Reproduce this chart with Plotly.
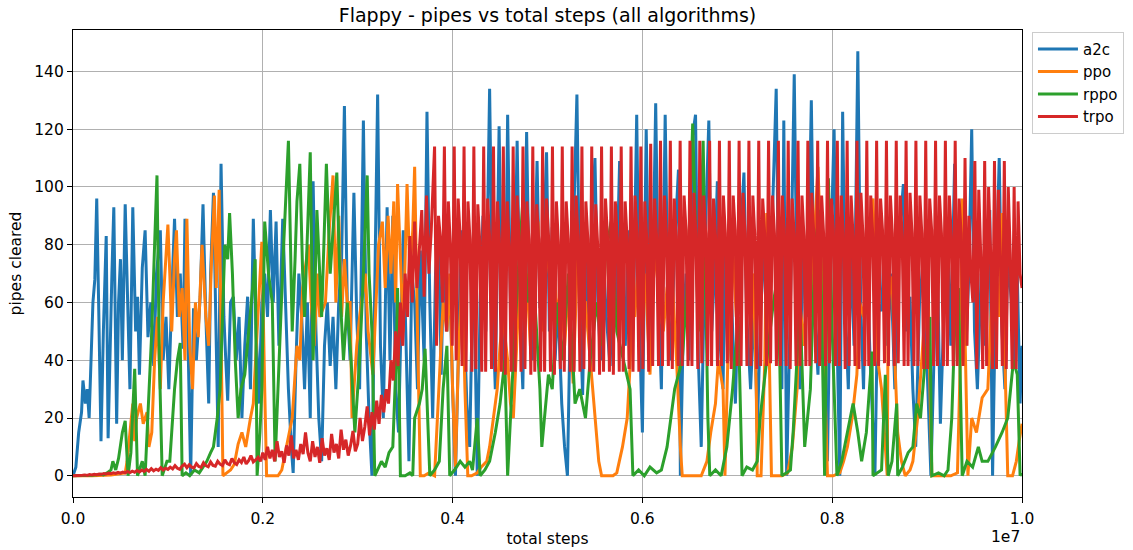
import numpy as np
import plotly.graph_objects as go

# x values are total steps in units of 1e5
a2c_points = [(0,0),(0.3,3),(0.6,15),(0.9,22),(1.05,33),(1.3,25),(1.5,30),(1.7,20),(1.9,40),(2.1,60),(2.3,68),(2.5,96),(2.7,60),(2.95,12),(3.2,50),(3.5,83),(3.7,13),(3.9,45),(4.1,70),(4.3,93),(4.6,18),(4.8,60),(5.0,75),(5.2,40),(5.5,94),(5.8,55),(6.0,30),(6.3,93),(6.6,50),(6.8,62),(7.0,35),(7.3,72),(7.6,85),(7.9,48),(8.2,60),(8.5,38),(8.8,70),(9.2,85),(9.5,40),(9.8,55),(10.1,30),(10.4,62),(10.7,89),(11.0,55),(11.3,70),(11.6,44),(11.8,89),(12.1,50),(12.4,0),(12.7,58),(13.0,40),(13.4,62),(13.7,94),(14.0,55),(14.3,25),(14.5,70),(14.8,98),(15.1,45),(15.3,10),(15.6,108),(15.9,55),(16.1,40),(16.3,26),(16.6,60),(16.9,62),(17.2,40),(17.5,55),(17.8,20),(18.1,45),(18.4,62),(18.7,30),(19.0,89),(19.3,50),(19.6,25),(19.9,60),(20.2,70),(20.5,55),(20.8,92),(21.1,60),(21.4,88),(21.7,45),(22.1,89),(22.4,55),(22.7,30),(23.0,10),(23.2,1),(23.5,40),(23.8,70),(24.1,55),(24.4,30),(24.7,60),(25.0,20),(25.3,102),(25.6,50),(25.9,20),(26.2,5),(26.5,45),(26.8,60),(27.1,38),(27.4,55),(27.7,30),(28.0,60),(28.3,75),(28.6,128),(28.9,60),(29.2,40),(29.6,98),(29.9,55),(30.2,30),(30.6,123),(30.9,50),(31.2,20),(31.5,0),(31.8,60),(32.1,132),(32.4,45),(32.7,20),(33.1,93),(33.4,40),(33.7,90),(34.0,30),(34.3,15),(34.8,85),(35.1,45),(35.4,5),(35.7,70),(36.0,60),(36.3,30),(36.6,78),(37.0,40),(37.3,126),(37.6,60),(37.9,20),(38.2,70),(38.5,85),(38.8,35),(39.1,80),(39.4,50),(39.7,68),(40.0,30),(40.3,0),(40.6,40),(40.9,85),(41.2,55),(41.5,25),(41.8,10),(42.2,80),(42.6,0),(42.9,60),(43.2,90),(43.5,50),(43.9,134),(44.2,60),(44.5,30),(44.9,121),(45.2,55),(45.5,35),(45.8,125),(46.1,60),(46.4,40),(46.8,116),(47.1,55),(47.4,30),(47.8,119),(48.1,60),(48.4,40),(48.9,109),(49.2,58),(49.5,70),(49.9,112),(50.2,50),(50.5,86),(50.8,40),(51.1,60),(51.5,25),(51.8,10),(52.1,0),(52.4,55),(52.7,80),(53.1,132),(53.4,60),(53.7,28),(54.0,80),(54.3,50),(54.7,90),(55.0,110),(55.3,60),(55.6,40),(55.9,75),(56.2,55),(56.6,38),(56.9,70),(57.2,55),(57.6,109),(57.9,60),(58.2,45),(58.5,85),(58.8,50),(59.1,65),(59.4,125),(59.7,50),(60.0,15),(60.4,120),(60.8,40),(61.1,70),(61.4,129),(61.7,60),(62.0,30),(62.4,125),(62.7,60),(63.0,40),(63.4,80),(63.8,106),(64.0,0),(64.3,50),(64.6,70),(64.9,40),(65.3,118),(65.6,125),(65.9,40),(66.2,10),(66.6,80),(67.0,123),(67.3,50),(67.6,70),(67.9,102),(68.2,45),(68.5,30),(68.7,80),(69.0,40),(69.4,60),(69.8,25),(70.2,75),(70.7,105),(71.0,55),(71.4,30),(71.8,60),(72.1,15),(72.5,60),(72.9,80),(73.3,40),(73.7,90),(74.1,134),(74.4,50),(74.7,30),(74.9,123),(75.2,0),(75.6,60),(76.0,139),(76.3,60),(76.6,30),(77.0,80),(77.4,55),(77.8,130),(78.1,60),(78.5,35),(78.8,75),(79.1,40),(79.5,5),(79.8,70),(80.2,120),(80.5,50),(80.8,0),(81.1,126),(81.4,55),(81.7,30),(82.0,80),(82.3,45),(82.7,147),(83.0,60),(83.3,30),(83.6,80),(84.0,40),(84.5,0),(84.8,60),(85.2,57),(85.5,80),(85.8,45),(86.2,70),(86.6,30),(87.0,80),(87.5,101),(87.8,50),(88.2,62),(88.5,30),(88.8,10),(89.2,60),(89.6,75),(90.0,40),(90.4,0),(90.8,50),(91.1,70),(91.4,18),(91.8,60),(92.2,80),(92.5,45),(92.9,108),(93.2,60),(93.5,40),(93.8,95),(94.1,45),(94.4,70),(94.7,120),(95.0,50),(95.3,30),(95.7,70),(96.0,45),(96.3,80),(96.6,92),(96.9,0),(97.2,60),(97.6,110),(97.9,50),(98.2,30),(98.5,75),(98.9,60),(99.2,40),(99.5,70),(99.8,25),(100,45)]

ppo_points = [(0,0),(2,0),(4,0.3),(5.5,1),(5.7,5),(6.0,15),(6.3,25),(6.5,12),(6.7,20),(7.1,25),(7.4,18),(7.8,22),(8.0,10),(8.3,15),(8.6,40),(8.9,55),(9.2,30),(9.5,60),(10.0,87),(10.2,70),(10.4,50),(10.7,75),(10.9,85),(11.2,55),(11.5,65),(11.8,40),(12.0,89),(12.3,45),(12.6,30),(12.9,60),(13.2,48),(13.6,80),(14.0,55),(14.3,45),(14.6,75),(14.9,97),(15.1,65),(15.4,99),(15.6,40),(15.8,0),(16.2,1),(16.6,2),(17.0,4),(17.4,11),(17.8,15),(18.2,10),(18.7,20),(19.0,25),(19.4,50),(19.9,81),(20.2,30),(20.4,0),(21.0,0),(21.6,0),(22.0,2),(22.5,10),(23.1,20),(23.6,45),(23.9,40),(24.2,65),(24.8,80),(25.1,60),(25.4,45),(25.8,70),(26.0,55),(26.6,60),(27.0,85),(27.4,104),(27.7,60),(28.0,90),(28.3,55),(28.6,75),(28.9,60),(29.2,60),(29.4,20),(29.9,45),(30.2,55),(30.8,70),(31.1,50),(31.6,35),(31.9,60),(32.2,80),(32.6,88),(32.9,65),(33.2,90),(33.5,70),(33.8,95),(34.0,60),(34.2,101),(34.5,75),(34.8,50),(35.2,101),(35.5,70),(35.8,85),(36.0,107),(36.3,50),(36.6,0),(37.0,0),(37.5,1),(38.1,0),(38.4,20),(38.7,45),(39.0,60),(39.4,50),(39.7,70),(40.0,30),(40.3,3),(40.6,40),(41.0,71),(41.3,30),(41.6,0),(42.0,0),(42.6,1),(43.0,3),(43.6,5),(43.9,10),(44.3,20),(44.7,30),(45.0,45),(45.3,55),(45.8,40),(46.1,25),(46.4,20),(46.8,50),(47.1,70),(47.4,55),(47.8,70),(48.2,45),(48.4,75),(48.7,86),(49.0,88),(49.2,65),(49.5,50),(49.8,70),(50.2,80),(50.6,80),(51.0,55),(51.4,65),(51.8,45),(52.2,65),(52.5,45),(52.7,32),(53.2,80),(53.6,60),(54.0,60),(54.5,40),(55.0,20),(55.4,5),(55.7,0),(56.3,0),(56.9,0),(57.3,1),(57.9,10),(58.4,20),(58.7,38),(58.9,60),(59.2,55),(59.6,75),(60.0,60),(60.3,70),(60.8,35),(61.3,80),(61.8,60),(62.2,50),(62.6,65),(63.1,71),(63.6,40),(64.0,10),(64.2,0),(64.8,0),(65.5,0),(66.2,0),(66.8,5),(67.2,15),(67.7,25),(68.0,40),(68.5,30),(68.7,0),(69.0,40),(69.2,60),(69.5,80),(69.9,55),(70.3,75),(70.8,80),(71.2,60),(71.7,70),(72.0,30),(72.1,0),(72.5,0),(72.9,40),(73.1,91),(73.4,30),(73.6,0),(74.1,0),(74.7,0),(75.3,1),(75.8,10),(76.3,30),(76.6,60),(77.0,45),(77.4,70),(77.7,55),(78.1,80),(78.5,107),(79.0,60),(79.3,20),(79.5,0),(80.1,0),(80.8,1),(81.2,5),(81.6,10),(82.1,20),(82.6,35),(82.9,60),(83.3,55),(83.8,80),(84.3,96),(84.8,40),(85.2,30),(85.6,10),(85.8,0),(85.9,60),(86.3,69),(86.6,40),(86.9,15),(87.3,5),(87.7,0),(88.2,2),(88.5,5),(89.0,20),(89.5,45),(90.1,71),(90.3,30),(90.5,0),(91.1,0),(91.8,0),(92.5,0),(93.2,1),(93.5,40),(93.7,96),(94.0,50),(94.3,0),(94.7,20),(95.2,15),(95.8,27),(96.4,30),(96.8,60),(97.2,75),(97.6,55),(97.9,91),(98.2,40),(98.5,0),(99.0,0),(99.4,5),(99.7,12),(100,18)]

rppo_points = [(0,0),(1,0),(2,0.2),(3,0.5),(3.2,0.3),(3.6,1),(4.0,2),(4.2,5),(4.5,2),(4.8,6),(5.0,10),(5.2,15),(5.5,19),(5.8,0),(6.1,8),(6.5,37),(6.8,0),(7.1,3),(7.3,5),(7.6,0),(7.9,20),(8.3,50),(8.6,80),(8.85,104),(9.1,40),(9.4,0),(9.7,3),(9.9,5),(10.2,5),(10.5,20),(10.7,30),(11.0,40),(11.3,46),(11.5,0),(11.9,1),(12.3,0),(12.8,2),(13.3,1),(13.7,3),(14.1,5),(14.5,8),(14.8,10),(15.2,20),(15.5,30),(15.8,60),(16.0,80),(16.3,75),(16.5,91),(16.8,70),(17.1,40),(17.4,20),(17.7,30),(18.1,35),(18.5,50),(18.9,65),(19.2,75),(19.4,0),(19.7,15),(19.9,30),(20.2,88),(20.6,70),(21.0,60),(21.3,5),(21.6,30),(21.8,50),(22.2,80),(22.7,116),(23.1,50),(23.4,75),(23.6,95),(23.9,108),(24.2,70),(24.4,55),(24.7,85),(25.0,112),(25.3,40),(25.7,92),(26.0,70),(26.2,55),(26.7,108),(27.1,70),(27.4,85),(27.8,105),(28.2,60),(28.5,40),(28.9,60),(29.3,40),(29.7,15),(30.2,40),(30.6,70),(31.0,104),(31.2,70),(31.5,50),(31.8,0),(32.1,2),(32.5,5),(32.9,3),(33.3,8),(33.7,10),(34.1,45),(34.2,65),(34.5,0),(35.0,0),(35.5,1),(35.8,0),(36.0,20),(36.5,25),(36.8,30),(37.1,44),(37.6,0),(38.1,2),(38.6,5),(39.0,30),(39.4,45),(39.7,0),(40.2,2),(40.8,5),(41.3,3),(41.8,5),(42.1,2),(42.6,20),(42.9,0),(43.4,2),(43.9,5),(44.5,15),(45.0,25),(45.5,40),(45.8,0),(46.4,40),(46.9,70),(47.4,95),(47.9,60),(48.5,70),(49.0,40),(49.2,30),(49.4,10),(50.1,35),(50.5,30),(51.0,60),(51.6,40),(52.2,70),(52.9,25),(53.4,30),(54.0,20),(54.5,40),(55.2,60),(55.7,45),(56.1,76),(56.7,88),(57.3,50),(58.0,40),(58.7,30),(59.0,0),(59.6,2),(60.2,0),(60.8,3),(61.5,1),(62.0,2),(62.6,10),(63.0,20),(63.4,30),(63.8,35),(64.2,40),(64.8,70),(65.3,122),(65.9,50),(66.4,116),(66.9,20),(67.1,0),(67.7,2),(68.3,0),(68.9,10),(69.5,30),(70.1,55),(70.5,0),(71.0,3),(71.6,2),(72.1,5),(72.4,20),(73.1,40),(73.8,60),(74.3,70),(74.7,0),(75.2,1),(75.6,2),(75.9,16),(76.6,60),(77.1,10),(77.7,30),(78.2,80),(78.7,92),(79.2,0),(79.6,103),(80.0,50),(80.5,0),(81.0,5),(81.6,15),(82.2,25),(82.7,15),(83.1,5),(83.6,15),(84.2,43),(84.3,0),(84.8,1),(85.2,2),(85.6,35),(85.9,0),(86.3,5),(86.8,25),(86.9,0),(87.4,3),(88.0,8),(88.5,10),(88.9,25),(89.3,20),(89.8,40),(90.3,55),(90.5,0),(91.2,1),(91.8,0),(92.2,2),(92.6,20),(92.9,50),(93.3,65),(93.7,0),(94.2,5),(94.8,3),(95.4,10),(95.8,5),(96.4,5),(97.2,10),(97.9,15),(98.5,20),(99.1,40),(99.5,35),(99.8,0),(100,1)]

# trpo: slow early phase (x 0..38), then logged values x 38..100
trpo_early = [0,0,0.1,0,0.2,0.3,0.1,0.4,0.3,0.5,0.4,0.6,0.5,0.8,0.6,0.9,0.7,1.0,0.8,1.2,
              0.9,1.3,1.0,1.5,1.1,1.6,1.2,1.8,1.3,2.0,1.5,2.2,1.6,2.5,1.7,2.3,1.9,2.8,2.0,2.6,
              2.2,3.0,2.4,3.5,2.6,2.2,3.4,4.0,2.8,3.8,3.0,2.7,4.2,3.2,2.9,4.5,3.5,3.1,4.8,3.6,
              3.3,5.0,4.0,3.5,5.5,4.2,3.8,6.0,4.5,3.9,5.5,4.6,6.5,4.1,5.2,7.0,4.8,5.5,6.4,5.0,
              8.0,5.5,10.0,6.0,9.0,5.0,12.0,6.5,8.5,4.5,10.5,7.0,14.0,6.0,9.0,5.5,11.0,7.5,15.0,8.0,
              5.0,12.0,6.5,10.0,4.5,13.0,7.0,9.5,5.5,14.5,8.0,11.0,6.0,16.0,9.0,12.5,7.0,10.5,15.5,8.5,
              11,20,12,17,24,14,22,16,26,18,28,22,
              30,25,40,33,50,38,60,45,70,55,83,60,88,65,78,92,62,97,70,85]
trpo_late = [114,45,90,82,60, 114,50,95,80,45, 114,40,96,83,38, 114,36,95,82,36,
             114,37,94,81,36, 114,36,96,83,37, 114,36,95,82,36, 114,35,95,80,36,
             114,36,97,83,36, 114,37,95,82,35, 114,36,94,82,36, 114,36,96,83,36,
             114,35,95,81,37, 114,36,95,82,36, 114,36,97,83,36, 114,37,95,82,36,
             114,36,94,80,35, 114,36,96,83,36, 114,35,95,82,36, 114,36,95,82,37,
             114,36,97,84,36, 114,37,95,82,36, 115,38,96,83,38,
             116,38,97,84,38, 116,37,96,83,38, 116,38,97,85,38, 116,38,98,84,37,
             116,39,97,84,38, 116,38,96,83,38, 116,38,97,84,39, 116,37,97,85,38,
             116,38,98,84,38, 116,38,97,83,37, 116,38,96,84,38, 116,39,97,84,38,
             116,38,97,85,38, 116,37,96,84,38, 116,38,97,83,38, 116,38,98,84,39,
             116,38,97,84,38, 116,39,96,85,38, 116,38,97,84,37, 116,38,97,83,38,
             116,37,98,84,38, 116,38,97,84,38, 116,38,96,85,39, 116,38,97,84,38,
             116,39,97,83,38, 116,38,98,84,38, 116,38,97,84,37, 116,37,96,85,38,
             116,38,97,84,38, 116,38,97,83,38, 116,38,96,84,38,
             110,45,90,70,60, 109,37,99,76,37, 109,38,100,78,37, 109,37,99,76,38,
             109,37,100,77,37, 100,37,95,70,65]

a2c_x = [p[0] * 1e5 for p in a2c_points]
a2c_y = [p[1] for p in a2c_points]
ppo_x = [p[0] * 1e5 for p in ppo_points]
ppo_y = [p[1] for p in ppo_points]
rppo_x = [p[0] * 1e5 for p in rppo_points]
rppo_y = [p[1] for p in rppo_points]
trpo_x = np.concatenate([np.linspace(0, 38, len(trpo_early), endpoint=False),
                         np.linspace(38.1, 100, len(trpo_late))]) * 1e5
trpo_y = trpo_early + trpo_late

series = [("a2c", a2c_x, a2c_y, "#1f77b4"),
          ("ppo", ppo_x, ppo_y, "#ff7f0e"),
          ("rppo", rppo_x, rppo_y, "#2ca02c"),
          ("trpo", trpo_x, trpo_y, "#d62728")]

x_ticks = [0, 2e6, 4e6, 6e6, 8e6, 1e7]
x_tick_text = ["0.0", "0.2", "0.4", "0.6", "0.8", "1.0"]
y_ticks = [0, 20, 40, 60, 80, 100, 120, 140]

fig = go.Figure()
for name, xs, ys, col in series:
    fig.add_trace(go.Scatter(x=list(xs), y=list(ys), mode="lines", name=name,
                             line=dict(color=col, width=3)))

font = "DejaVu Sans, Arial, sans-serif"
fs = 15.5
fig.update_layout(
    width=1133, height=550,
    margin=dict(l=73, r=111, t=30, b=53, autoexpand=False),
    paper_bgcolor="white", plot_bgcolor="white",
    font=dict(family=font, size=fs, color="black"),
    title=dict(text="Flappy - pipes vs total steps (all algorithms)",
               x=(73 + 1022) / 2 / 1133, xanchor="center", y=0.972, yanchor="middle",
               font=dict(size=19)),
    showlegend=True,
    legend=dict(x=1.0105, y=0.996, xanchor="left", yanchor="top",
                bordercolor="#cccccc", borderwidth=1, bgcolor="white",
                itemwidth=40, font=dict(size=15)),
)
fig.update_xaxes(range=[0, 1e7], tickvals=x_ticks, ticktext=x_tick_text,
                 tickfont=dict(size=fs), ticklabelstandoff=2, automargin=False,
                 showgrid=True, gridcolor="#b0b0b0", gridwidth=1,
                 showline=True, linecolor="black", linewidth=1.2, mirror=True,
                 ticks="outside", ticklen=5, tickcolor="black", zeroline=False,
                 title=dict(text="total steps", standoff=6, font=dict(size=fs)))
fig.update_yaxes(range=[-7.35, 154.35], tickvals=y_ticks,
                 tickfont=dict(size=fs), automargin=False,
                 showgrid=True, gridcolor="#b0b0b0", gridwidth=1,
                 showline=True, linecolor="black", linewidth=1.2, mirror=True,
                 ticks="outside", ticklen=5, tickcolor="black", zeroline=False,
                 title=dict(text="pipes cleared", standoff=8, font=dict(size=fs)))
fig.add_annotation(text="1e7", xref="paper", yref="paper", x=1.0, y=-0.0857,
                   xanchor="right", yanchor="middle", showarrow=False, font=dict(size=fs))
fig.write_html("out.html")
